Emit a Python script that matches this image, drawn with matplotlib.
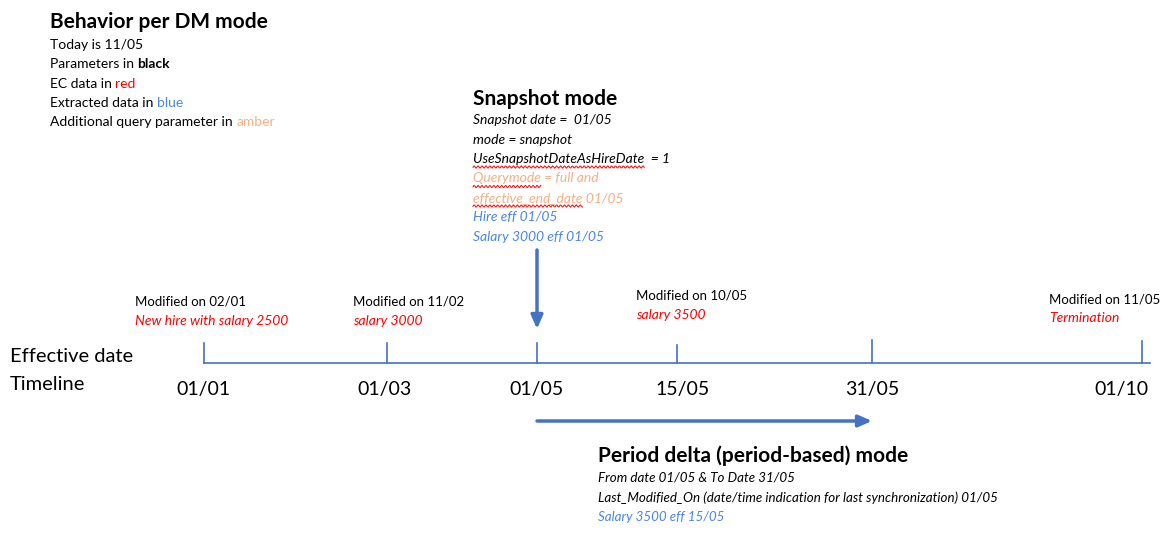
import matplotlib
matplotlib.use("Agg")
import matplotlib.pyplot as plt
import numpy as np

# timeline dates and where they sit (pixel units of the slide)
dates = ["01/01", "01/03", "01/05", "15/05", "31/05", "01/10"]
date_x = [204, 387, 537, 677, 872, 1142]
label_x = [203, 384, 536, 683, 872, 1121]
tick_top = [343, 343, 343, 345, 340, 341]

# modification notes above the timeline
mod_labels = ["Modified on 02/01", "Modified on 11/02", "Modified on 10/05", "Modified on 11/05"]
mod_changes = ["New hire with salary 2500", "salary 3000", "salary 3500", "Termination"]
mod_x = [135, 353, 636, 1049]
mod_y = [302, 302, 296, 299]

legend_lines = [
    [("Today is 11/05", "black", "normal")],
    [("Parameters in ", "black", "normal"), ("black", "black", "bold")],
    [("EC data in ", "black", "normal"), ("red", "red", "normal")],
    [("Extracted data in ", "black", "normal"), ("blue", "blue", "normal")],
    [("Additional query parameter in ", "black", "normal"), ("amber", "amber", "normal")],
]

snapshot_lines = [
    ("Snapshot date =  01/05", "black"),
    ("mode = snapshot", "black"),
    ("UseSnapshotDateAsHireDate  = 1", "black"),
    ("Querymode = full and", "amber"),
    ("effective_end_date 01/05", "amber"),
    ("Hire eff 01/05", "blue"),
    ("Salary 3000 eff 01/05", "blue"),
]
# words flagged by the spell checker (line index, word)
squiggles = [(2, "UseSnapshotDateAsHireDate"), (3, "Querymode"), (4, "effective_end_date")]

period_lines = [
    ("From date 01/05 & To Date 31/05", "black"),
    ("Last_Modified_On (date/time indication for last synchronization) 01/05", "black"),
    ("Salary 3500 eff 15/05", "blue"),
]

colors = {"black": "black", "red": "#FF0000", "blue": "#4A86E8", "amber": "#F4B183"}
line_col = "#4472C4"

plt.rcParams["font.family"] = ["Lato", "DejaVu Sans"]

fig = plt.figure(figsize=(11.74, 5.58), dpi=100)
ax = fig.add_axes([0, 0, 1, 1])
ax.set_xlim(0, 1174)
ax.set_ylim(558, 0)
ax.axis("off")
renderer = fig.canvas.get_renderer()


def runs(x, y, parts, size, style="normal"):
    # draw consecutive text pieces with different colours on one line
    for text, col, weight in parts:
        t = ax.text(x, y, text, color=colors[col], fontsize=size, fontweight=weight,
                    fontstyle=style, va="center", ha="left")
        x += t.get_window_extent(renderer).width


# top-left legend block
ax.text(50, 22, "Behavior per DM mode", fontsize=15, fontweight="bold", va="center")
for i, parts in enumerate(legend_lines):
    runs(50, 45 + 19.3 * i, parts, 10)

# snapshot block
ax.text(473, 99, "Snapshot mode", fontsize=15, fontweight="bold", va="center")
snap_y = [120 + 19.5 * i for i in range(len(snapshot_lines))]
for y, (text, col) in zip(snap_y, snapshot_lines):
    ax.text(473, y, text, color=colors[col], fontsize=10, fontstyle="italic", va="center")
for i, word in squiggles:
    t = ax.text(473, -50, word, fontsize=10, fontstyle="italic")
    w = t.get_window_extent(renderer).width
    t.remove()
    xs = np.linspace(473, 473 + w, int(w))
    ax.plot(xs, snap_y[i] + 8 + 1.2 * np.sin(xs * 1.6), color="#FF0000", lw=0.7)

# period block
ax.text(598, 456, "Period delta (period-based) mode", fontsize=15, fontweight="bold", va="center")
for i, (text, col) in enumerate(period_lines):
    ax.text(598, 478 + 19.5 * i, text, color=colors[col], fontsize=9.6,
            fontstyle="italic", va="center")

# timeline
ax.text(10, 356, "Effective date", fontsize=14.5, va="center")
ax.text(10, 384, "Timeline", fontsize=14.5, va="center")
ax.plot([date_x[0], 1150], [363, 363], color=line_col, lw=1.2)
for x, top in zip(date_x, tick_top):
    ax.plot([x, x], [top, 363], color=line_col, lw=1.2)
for x, lab in zip(label_x, dates):
    ax.text(x, 389, lab, fontsize=14, ha="center", va="center")

for x, y, lab, chg in zip(mod_x, mod_y, mod_labels, mod_changes):
    ax.text(x, y, lab, fontsize=9.5, va="center")
    ax.text(x, y + 19, chg, fontsize=10, color=colors["red"], fontstyle="italic", va="center")

# arrows for the two modes
arrow = dict(arrowstyle="-|>,head_length=0.8,head_width=0.35", color=line_col, lw=2.5,
             shrinkA=0, shrinkB=0)
ax.annotate("", xy=(date_x[2], 329), xytext=(date_x[2], 250), arrowprops=arrow)
ax.annotate("", xy=(date_x[4], 421), xytext=(date_x[2], 421), arrowprops=arrow)

fig.savefig("out.png", dpi=100, facecolor="white")
